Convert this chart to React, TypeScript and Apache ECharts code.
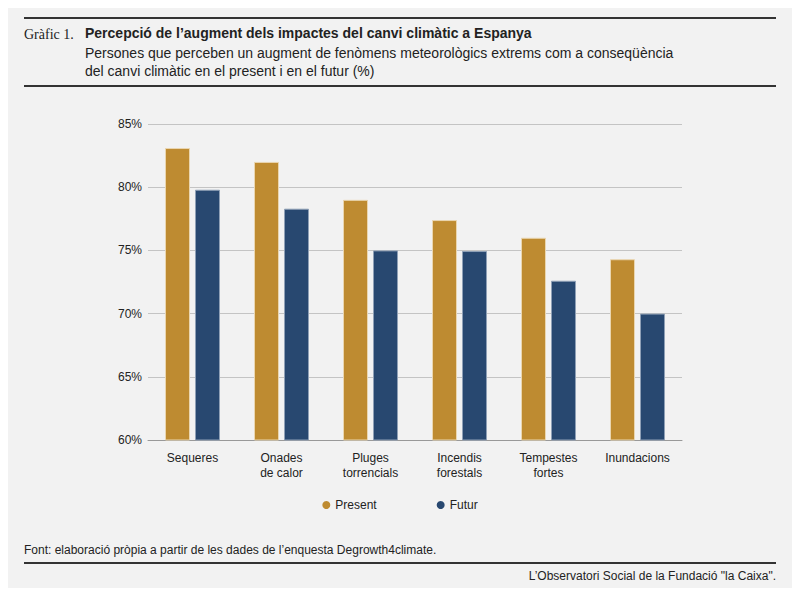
import { useEffect, useRef } from 'react'
import * as echarts from 'echarts'

const categories = ['Sequeres', 'Onades\nde calor', 'Pluges\ntorrencials', 'Incendis\nforestals', 'Tempestes\nfortes', 'Inundacions']
const present = [83.1, 82.0, 79.0, 77.4, 76.0, 74.3]
const futur = [79.8, 78.3, 75.0, 74.95, 72.6, 70.0]
const yTicks = [60, 65, 70, 75, 80, 85]

const FONT = "'Liberation Sans', Arial, sans-serif"

export default function App() {
  const chartRef = useRef<HTMLDivElement>(null)

  useEffect(() => {
    if (!chartRef.current) return
    const chart = echarts.init(chartRef.current, undefined, { renderer: 'svg' })
    chart.setOption({
      animation: false,
      backgroundColor: '#f2f2f2',
      textStyle: { fontFamily: FONT },
      graphic: [
        { type: 'line', shape: { x1: 24, y1: 18, x2: 776, y2: 18 }, style: { stroke: '#333', lineWidth: 2 } },
        { type: 'text', x: 24, y: 27, style: { text: 'Gràfic 1.', font: "14px 'Liberation Serif', serif", fill: '#222' } },
        { type: 'text', x: 85, y: 26, style: { text: 'Percepció de l’augment dels impactes del canvi climàtic a Espanya', font: `bold 14px ${FONT}`, fill: '#222' } },
        { type: 'text', x: 85, y: 44, style: { text: 'Persones que perceben un augment de fenòmens meteorològics extrems com a conseqüència\ndel canvi climàtic en el present i en el futur (%)', font: `14px ${FONT}`, fill: '#222', lineHeight: 18 } },
        { type: 'line', shape: { x1: 24, y1: 86, x2: 776, y2: 86 }, style: { stroke: '#333', lineWidth: 2 } },
        { type: 'text', x: 24, y: 544, style: { text: 'Font: elaboració pròpia a partir de les dades de l’enquesta Degrowth4climate.', font: `12px ${FONT}`, fill: '#222' } },
        { type: 'line', shape: { x1: 24, y1: 563, x2: 776, y2: 563 }, style: { stroke: '#333', lineWidth: 2 } },
        { type: 'text', x: 776, y: 570, style: { text: 'L’Observatori Social de la Fundació "la Caixa".', font: `12px ${FONT}`, fill: '#222', align: 'right' } },
        { type: 'line', shape: { x1: 24, y1: 591, x2: 776, y2: 591 }, style: { stroke: '#333', lineWidth: 2 } },
      ],
      legend: {
        top: 494,
        left: 'center',
        icon: 'circle',
        itemWidth: 8,
        itemHeight: 8,
        itemGap: 60,
        itemStyle: { borderWidth: 0 },
        textStyle: { fontSize: 12, color: '#222', fontFamily: FONT },
        data: ['Present', 'Futur'],
      },
      grid: { left: 148, right: 118, top: 124, bottom: 156 },
      xAxis: {
        type: 'category',
        data: categories,
        axisTick: { show: false },
        axisLine: { lineStyle: { color: '#999' } },
        axisLabel: { color: '#222', fontSize: 12, lineHeight: 15, margin: 10, fontFamily: FONT },
      },
      yAxis: {
        type: 'value',
        min: yTicks[0],
        max: yTicks[yTicks.length - 1],
        interval: 5,
        axisLabel: { formatter: '{value}%', color: '#222', fontSize: 12, margin: 6, fontFamily: FONT },
        splitLine: { lineStyle: { color: '#c4c4c4' } },
      },
      series: [
        { name: 'Present', type: 'bar', data: present, barWidth: 25, barGap: '20%', itemStyle: { color: '#be8b31', borderColor: '#ead6b0', borderWidth: 1 } },
        { name: 'Futur', type: 'bar', data: futur, barWidth: 25, itemStyle: { color: '#284870', borderColor: '#8fa0b6', borderWidth: 1 } },
      ],
    })
    return () => chart.dispose()
  }, [])

  return <div ref={chartRef} style={{ width: 800, height: 596, margin: -8 }} />
}
